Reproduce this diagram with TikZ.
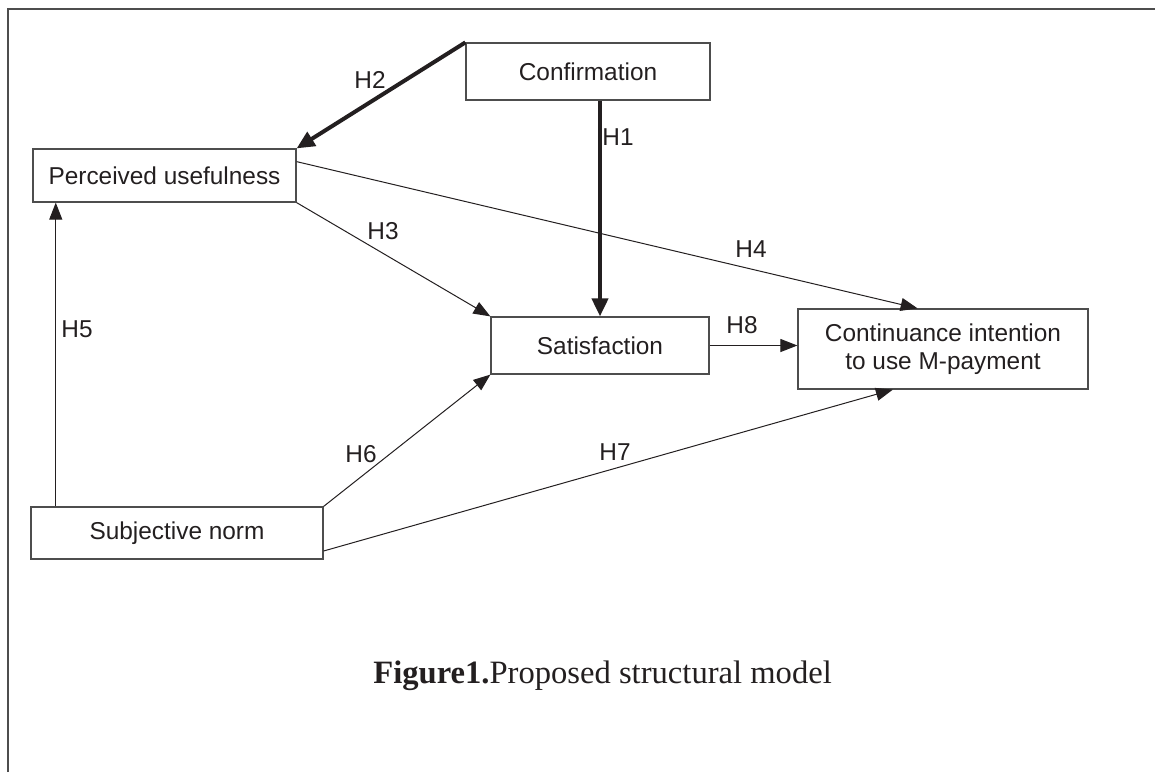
\documentclass[tikz,border=0pt]{standalone}
\usepackage{fontspec}
\setmainfont{Liberation Serif}
\newfontfamily\boxfont{Liberation Sans}
\usetikzlibrary{arrows.meta}
\definecolor{ink}{HTML}{231F20}
\definecolor{rim}{HTML}{4D4D4D}

\begin{document}
\begin{tikzpicture}[x=0.5pt, y=-0.5pt,
  construct/.style = {draw=rim, line width=0.6pt, inner sep=0pt, align=center, text=ink, font=\boxfont\fontsize{12.2}{14}\selectfont},
  lbl/.style = {text=ink, inner sep=0pt, font=\boxfont\fontsize{12.2}{14}\selectfont},
  link/.style = {draw=ink, line width=0.5pt, -{Triangle[length=8.5pt,width=6.5pt]}},
  strong/.style = {draw=ink, line width=2pt, -{Triangle[length=9pt,width=8pt]}}]
  \useasboundingbox (0,0) rectangle (1155,772);
  \draw[rim, line width=0.6pt] (8,772) -- (8,9) -- (1155,9);

  \node[construct, minimum width=122pt, minimum height=28.5pt] (conf) at (588,71.5) {Confirmation};
  \node[construct, minimum width=131.5pt, minimum height=26.5pt] (pu) at (164.5,175.5) {Perceived usefulness};
  \node[construct, minimum width=109pt, minimum height=28.5pt] (sat) at (600,345.5) {Satisfaction};
  \node[construct, minimum width=145pt, minimum height=40pt] (cont) at (943,349) {Continuance intention\\to use M-payment};
  \node[construct, minimum width=146pt, minimum height=26pt] (sn) at (177,533) {Subjective norm};

  \draw[strong] (conf.north west) -- (pu.north east);
  \draw[strong] (conf.south -| sat.north) -- (sat.north);
  \draw[link] (pu.south east) -- (sat.north west);
  \draw[link] (pu.6) -- (cont.122);
  \draw[link] (sn.north -| pu.194) -- (pu.194);
  \draw[link] (sn.north east) -- (sat.south west);
  \draw[link] (sn.353) -- (cont.219);
  \draw[link] (sat.east) -- (sat.east -| cont.west);

  \node[lbl] (h1) at (618,137) {H1};
  \node[lbl] (h2) at (370,80) {H2};
  \node[lbl] (h3) at (383,231) {H3};
  \node[lbl] (h4) at (751,249) {H4};
  \node[lbl] (h5) at (77,329) {H5};
  \node[lbl] (h6) at (361,454) {H6};
  \node[lbl] (h7) at (615,452) {H7};
  \node[lbl] (h8) at (742,325) {H8};

  \node[anchor=base west, inner sep=0pt, text=ink, font=\fontsize{16.3}{20}\selectfont] (caption) at (373,683) {\textbf{Figure1.}Proposed structural model};
\end{tikzpicture}
\end{document}
